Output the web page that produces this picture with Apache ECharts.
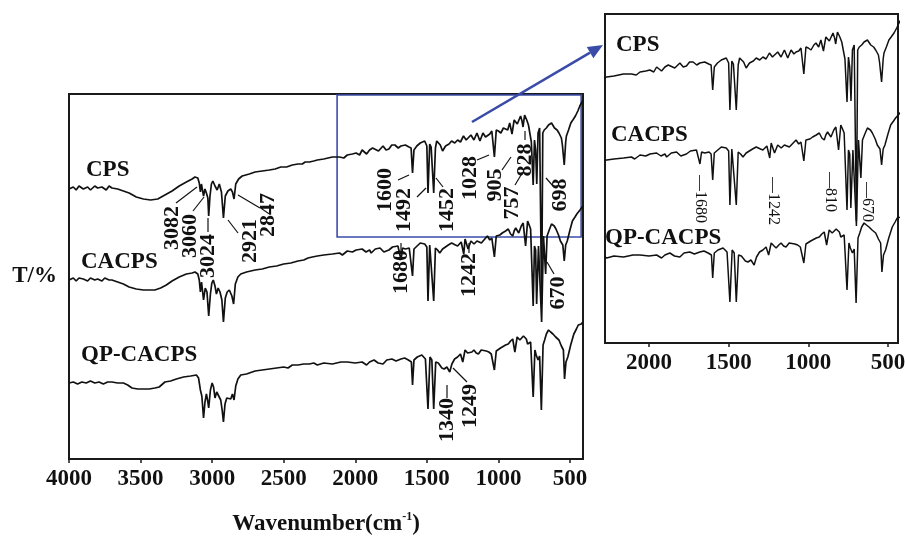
<!DOCTYPE html>
<html>
<head>
<meta charset="utf-8">
<script src="https://cdn.jsdelivr.net/npm/echarts@6/dist/echarts.min.js"></script>
<style>
  html, body { margin: 0; padding: 0; background: #ffffff; }
  #chart { width: 905px; height: 537px; }
</style>
</head>
<body>
<div id="chart"></div>
<script>
// FTIR transmittance spectra, [wavenumber (cm-1), relative T] pairs
const seriesNames = ['CPS', 'CACPS', 'QP-CACPS'];

const cpsSpectrum = [
  [4000,131],[3970,133],[3950,130],[3930,134],[3900,131],[3870,133],[3850,130],[3820,134],[3800,132],[3770,133],
  [3740,130],[3720,134],[3700,132],[3660,131],[3620,129],[3580,127],[3530,123],[3480,121],[3430,120],[3380,121],
  [3330,125],[3280,129],[3230,134],[3180,138],[3140,141],[3120,143],[3100,142],[3090,137],[3082,128],[3075,136],
  [3068,134],[3060,124],[3050,131],[3040,127],[3030,122],[3024,104],[3015,124],[3005,136],[2995,139],[2980,134],
  [2965,130],[2950,136],[2935,128],[2921,102],[2908,124],[2890,129],[2870,131],[2858,128],[2847,121],[2835,136],
  [2815,141],[2790,144],[2740,146],[2700,148],[2650,149],[2600,150],[2560,151],[2520,153],[2480,153],[2440,155],
  [2400,156],[2370,156],[2350,158],[2320,158],[2290,159],[2265,160],[2220,161],[2160,163],[2110,163],[2080,162],
  [2056,165],[2020,166],[1994,167],[1970,165],[1952,170],[1921,166],[1900,170],[1879,172],[1838,169],[1806,174],
  [1785,170],[1765,171],[1745,175],[1723,175],[1700,172],[1681,174],[1650,175],[1625,173],[1610,172],[1600,147],
  [1590,170],[1570,174],[1546,177],[1515,179],[1500,174],[1492,127],[1480,176],[1470,173],[1452,127],[1440,172],
  [1431,179],[1406,175],[1390,169],[1369,174],[1345,176],[1327,179],[1305,177],[1285,180],[1265,178],[1244,184],
  [1225,180],[1212,182],[1192,185],[1171,180],[1150,187],[1129,179],[1108,187],[1090,183],[1077,185],[1060,186],
  [1046,189],[1028,163],[1015,190],[1000,189],[983,187],[965,192],[952,194],[935,190],[921,197],[905,186],
  [890,200],[879,202],[868,196],[858,195],[845,204],[835,199],[828,193],[817,205],[802,200],[790,195],
  [780,197],[770,178],[757,135],[748,180],[740,170],[732,136],[723,187],[712,192],[698,16],[690,187],
  [680,190],[665,192],[650,195],[629,197],[608,192],[590,190],[577,187],[560,182],[553,175],[540,155],
  [530,178],[525,184],[510,190],[494,197],[480,200],[462,204],[445,209],[431,214],[420,217],[410,220]
];

const cacpsSpectrum = [
  [4000,130],[3970,132],[3950,129],[3930,132],[3900,131],[3870,129],[3850,132],[3820,130],[3800,131],[3770,129],
  [3750,132],[3720,130],[3700,130],[3660,128],[3620,126],[3580,123],[3530,121],[3480,120],[3440,120],[3400,120],
  [3360,122],[3320,125],[3280,129],[3230,133],[3180,136],[3140,137],[3120,138],[3100,136],[3090,130],[3082,118],
  [3074,128],[3068,126],[3060,110],[3048,122],[3036,118],[3024,94],[3012,116],[3002,127],[2992,130],[2980,124],
  [2970,116],[2958,122],[2945,118],[2932,110],[2921,88],[2908,112],[2895,118],[2880,120],[2862,114],[2850,106],
  [2838,126],[2820,133],[2800,136],[2760,138],[2700,140],[2650,141],[2600,143],[2550,144],[2500,146],[2450,147],
  [2400,149],[2360,150],[2330,152],[2300,153],[2265,154],[2220,155],[2160,156],[2110,157],[2090,155],[2056,159],
  [2020,158],[1994,160],[1952,161],[1925,158],[1900,160],[1889,157],[1860,161],[1827,162],[1800,158],[1765,160],
  [1740,163],[1702,164],[1680,150],[1670,162],[1650,161],[1623,162],[1610,160],[1600,134],[1590,161],[1581,162],
  [1546,167],[1515,166],[1500,163],[1492,109],[1480,165],[1469,164],[1452,109],[1440,162],[1425,160],[1410,157],
  [1390,161],[1379,162],[1350,165],[1327,167],[1300,165],[1285,164],[1260,168],[1242,156],[1233,171],[1212,161],
  [1192,169],[1170,166],[1150,169],[1119,167],[1095,171],[1077,174],[1060,170],[1046,172],[1028,153],[1015,174],
  [990,175],[973,177],[950,179],[931,181],[915,176],[900,174],[890,179],[879,182],[858,177],[840,184],
  [827,187],[810,164],[796,189],[785,185],[775,181],[757,104],[748,164],[740,160],[733,106],[720,164],
  [698,88],[685,174],[670,136],[660,174],[645,180],[629,186],[610,184],[598,181],[580,175],[567,169],
  [550,165],[540,149],[530,165],[519,169],[500,180],[483,189],[465,193],[452,196],[430,200],[410,204]
];

const qpCacpsSpectrum = [
  [4000,137],[3970,138],[3940,136],[3910,138],[3880,137],[3850,139],[3820,137],[3790,138],[3760,136],[3730,138],
  [3700,138],[3660,137],[3620,137],[3590,135],[3560,132],[3520,131],[3480,131],[3440,131],[3400,132],[3370,133],
  [3330,138],[3290,139],[3250,141],[3200,143],[3150,144],[3110,145],[3095,142],[3082,130],[3072,124],[3060,102],
  [3050,118],[3040,126],[3032,120],[3024,112],[3012,130],[3000,137],[2990,133],[2980,122],[2968,128],[2955,126],
  [2940,120],[2930,110],[2921,98],[2910,116],[2898,122],[2885,124],[2870,121],[2858,126],[2847,120],[2835,134],
  [2820,141],[2800,145],[2760,146],[2700,149],[2650,150],[2600,151],[2550,152],[2500,153],[2470,152],[2440,155],
  [2400,155],[2360,156],[2320,156],[2290,157],[2265,155],[2220,157],[2160,156],[2100,158],[2056,158],[2000,157],
  [1952,158],[1921,155],[1900,158],[1869,160],[1840,157],[1806,156],[1780,160],[1744,161],[1715,159],[1681,161],
  [1655,162],[1629,160],[1608,158],[1600,135],[1590,160],[1567,163],[1535,165],[1510,161],[1500,160],[1492,111],
  [1478,163],[1465,160],[1452,111],[1438,158],[1420,157],[1410,155],[1395,152],[1379,151],[1360,153],[1340,148],
  [1325,156],[1306,161],[1285,163],[1265,166],[1249,158],[1233,170],[1215,167],[1202,165],[1185,168],[1171,170],
  [1155,167],[1140,166],[1120,170],[1108,171],[1085,169],[1067,168],[1050,166],[1028,150],[1015,169],[1004,170],
  [985,172],[973,173],[950,175],[931,176],[915,179],[900,181],[885,168],[869,183],[850,180],[838,180],
  [825,184],[817,185],[805,181],[796,176],[785,177],[775,178],[757,123],[745,170],[736,165],[723,160],
  [712,164],[700,110],[688,175],[677,180],[665,186],[650,190],[635,188],[619,186],[600,183],[577,180],
  [560,174],[546,170],[538,141],[528,158],[515,163],[495,175],[473,186],[455,191],[442,195],[421,196],[410,198]
];

const spectra = [cpsSpectrum, cacpsSpectrum, qpCacpsSpectrum];

// axis ticks
const mainTicks = [4000, 3500, 3000, 2500, 2000, 1500, 1000, 500];
const insetTicks = [2000, 1500, 1000, 500];

// wavenumber window shown in the enlarged panel
const zoomWindow = [2127, 422];

// ---------- layout ----------
const SERIF = '"Liberation Serif", "Times New Roman", serif';
const INK = '#111111';
const BLUE = '#3a4ca8';

// vertical stacking of the traces (axis units)
const mainShift = [139, 49, -61];
const insetShift = [106, 29, -70];

const chart = echarts.init(document.getElementById('chart'), null, { renderer: 'canvas' });

function shifted(data, d) {
  return data.map(p => [p[0], p[1] + d]);
}

const series = [];
spectra.forEach((s, i) => {
  series.push({
    name: seriesNames[i] + '-main',
    type: 'line', xAxisIndex: 0, yAxisIndex: 0,
    data: shifted(s, mainShift[i]),
    showSymbol: false, smooth: false, animation: false, clip: true,
    lineStyle: { color: INK, width: 1.7 },
    markArea: i === 0 ? {
      silent: true,
      itemStyle: { color: 'rgba(0,0,0,0)', borderColor: BLUE, borderWidth: 1.6 },
      data: [[{ xAxis: zoomWindow[0], yAxis: 222 }, { xAxis: zoomWindow[1], yAxis: 364 }]]
    } : undefined
  });
  series.push({
    name: seriesNames[i] + '-inset',
    type: 'line', xAxisIndex: 1, yAxisIndex: 1,
    data: shifted(s, insetShift[i]),
    showSymbol: false, smooth: false, animation: false, clip: true,
    lineStyle: { color: INK, width: 1.5 }
  });
});

const tickLabel = {
  fontFamily: SERIF, fontWeight: 'bold', fontSize: 23, color: INK,
  formatter: v => String(v)
};

// peak annotations: [text, cx, cy, leader]
const mainNotes = [
  ['3082', 172, 228, [176, 203, 197, 187]],
  ['3060', 190, 236, [193, 211, 204, 197]],
  ['3024', 208, 256, [208, 218, 208, 232]],
  ['2921', 250, 241, [228, 220, 238, 233]],
  ['2847', 268, 215, [238, 195, 260, 208]],
  ['1600', 385, 190, [398, 180, 409, 175]],
  ['1492', 404, 210, [417, 197, 426, 188]],
  ['1452', 447, 210, [436, 178, 443, 187]],
  ['1028', 470, 178, [477, 160, 489, 155]],
  ['905', 495, 185, [502, 170, 511, 157]],
  ['757', 512, 203, [515, 185, 521, 175]],
  ['828', 525, 160, [525, 131, 525, 140]],
  ['698', 560, 195, [546, 178, 553, 186]],
  ['1680', 401, 272, [401, 243, 401, 252]],
  ['1242', 469, 275, [469, 243, 469, 253]],
  ['670', 558, 293, [547, 262, 554, 274]],
  ['1340', 447, 420, [447, 385, 447, 398]],
  ['1249', 470, 406, [453, 368, 467, 382]]
];

const insetNotes = [
  ['—1680', 700, 199],
  ['—1242', 773, 201],
  ['—810', 830, 192],
  ['—670', 867, 202]
];

const nameLabels = [
  ['CPS', 86, 170], ['CACPS', 81, 262], ['QP-CACPS', 81, 355],
  ['CPS', 616, 45], ['CACPS', 611, 135], ['QP-CACPS', 605, 238]
];

const graphic = [];
mainNotes.forEach(n => {
  graphic.push({
    type: 'text', x: n[1], y: n[2], rotation: Math.PI / 2, z: 50,
    style: { text: n[0], fill: INK, fontFamily: SERIF, fontWeight: 'bold', fontSize: 22,
             align: 'center', verticalAlign: 'middle' }
  });
  const l = n[3];
  graphic.push({
    type: 'line', z: 50,
    shape: { x1: l[0], y1: l[1], x2: l[2], y2: l[3] },
    style: { stroke: INK, lineWidth: 1.2 }
  });
});
insetNotes.forEach(n => {
  graphic.push({
    type: 'text', x: n[1], y: n[2], rotation: -Math.PI / 2, z: 50,
    style: { text: n[0], fill: INK, fontFamily: SERIF, fontSize: 16,
             align: 'center', verticalAlign: 'middle' }
  });
});
nameLabels.forEach(n => {
  graphic.push({
    type: 'text', x: n[1], y: n[2], z: 50,
    style: { text: n[0], fill: INK, fontFamily: SERIF, fontWeight: 'bold', fontSize: 23,
             align: 'left', verticalAlign: 'middle' }
  });
});

// arrow from the boxed region to the enlarged panel
(function () {
  const x1 = 472, y1 = 122, x2 = 603, y2 = 45;
  const ang = Math.atan2(y2 - y1, x2 - x1);
  const len = 15, half = 6.5;
  const bx = x2 - len * Math.cos(ang), by = y2 - len * Math.sin(ang);
  graphic.push({
    type: 'line', z: 60,
    shape: { x1: x1, y1: y1, x2: bx, y2: by },
    style: { stroke: BLUE, lineWidth: 2.6 }
  });
  graphic.push({
    type: 'polygon', z: 60,
    shape: { points: [[x2, y2],
      [bx + half * Math.sin(ang), by - half * Math.cos(ang)],
      [bx - half * Math.sin(ang), by + half * Math.cos(ang)]] },
    style: { fill: BLUE }
  });
})();

const option = {
  backgroundColor: '#ffffff',
  animation: false,
  grid: [
    { left: 69, top: 94, width: 514, height: 365, show: true, borderColor: '#1a1a1a', borderWidth: 2,
      backgroundColor: 'rgba(0,0,0,0)', containLabel: false, outerBoundsMode: 'none' },
    { left: 605, top: 14, width: 293, height: 329, show: true, borderColor: '#1a1a1a', borderWidth: 2,
      backgroundColor: 'rgba(0,0,0,0)', containLabel: false, outerBoundsMode: 'none' }
  ],
  xAxis: [
    {
      gridIndex: 0, type: 'value', inverse: true, min: 409, max: 4000,
      axisLine: { show: true, lineStyle: { color: '#1a1a1a', width: 2 } },
      axisTick: { show: true, customValues: mainTicks, length: 4, lineStyle: { color: '#1a1a1a', width: 1.5 } },
      axisLabel: Object.assign({ customValues: mainTicks, margin: 9 }, tickLabel),
      splitLine: { show: false },
      name: '{a|Wavenumber(cm}{b|-1}{a|)}',
      nameLocation: 'middle', nameGap: 52,
      nameTextStyle: {
        rich: {
          a: { fontFamily: SERIF, fontWeight: 'bold', fontSize: 23, color: INK, lineHeight: 26 },
          b: { fontFamily: SERIF, fontWeight: 'bold', fontSize: 12, color: INK, verticalAlign: 'top', lineHeight: 26 }
        }
      }
    },
    {
      gridIndex: 1, type: 'value', inverse: true, min: 437, max: 2276,
      axisLine: { show: true, lineStyle: { color: '#1a1a1a', width: 2 } },
      axisTick: { show: true, customValues: insetTicks, length: 4, lineStyle: { color: '#1a1a1a', width: 1.5 } },
      axisLabel: Object.assign({ customValues: insetTicks, margin: 9 }, tickLabel),
      splitLine: { show: false }
    }
  ],
  yAxis: [
    {
      gridIndex: 0, type: 'value', min: 0, max: 365,
      axisLine: { show: false }, axisTick: { show: false }, axisLabel: { show: false },
      splitLine: { show: false },
      name: 'T/%', nameLocation: 'middle', nameRotate: 0, nameGap: 12,
      nameTextStyle: { fontFamily: SERIF, fontWeight: 'bold', fontSize: 23, color: INK }
    },
    {
      gridIndex: 1, type: 'value', min: 0, max: 329,
      axisLine: { show: false }, axisTick: { show: false }, axisLabel: { show: false },
      splitLine: { show: false }
    }
  ],
  series: series,
  graphic: graphic
};

chart.setOption(option);
</script>
</body>
</html>
